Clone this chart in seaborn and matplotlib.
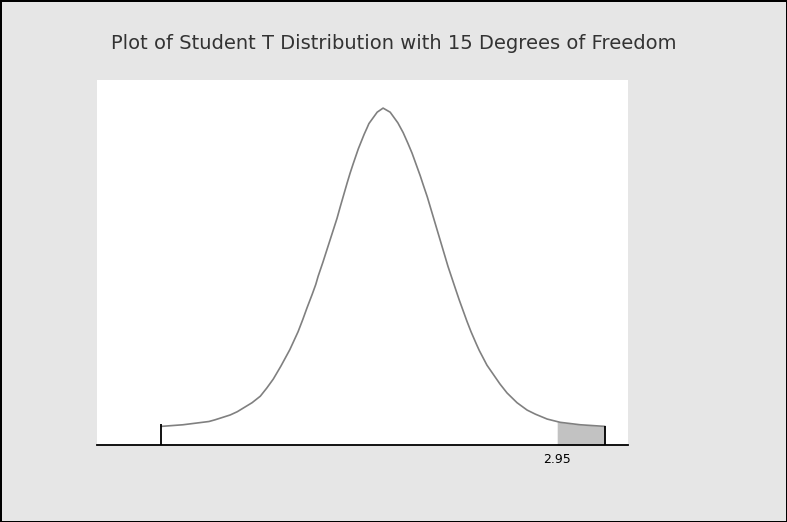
# Step 1: Import Required Libraries
import numpy as np
import pandas as pd
import seaborn as sns
import matplotlib
matplotlib.use("Agg")
import matplotlib.pyplot as plt

# Step 2: Values (t distribution, 15 degrees of freedom)
degrees_of_freedom = 15
t_values = [-3.76, -3.39, -2.95, -2.85, -2.59, -2.47, -2.22, -2.08, -1.97, -1.86,
            -1.73, -1.58, -1.51, -1.44, -1.36, -1.29, -1.20, -1.14, -1.10, -1.02,
            -0.78, -0.73, -0.61, -0.56, -0.51, -0.42, -0.32, -0.27, -0.24, -0.10,
            0.00, 0.12, 0.25, 0.34, 0.42, 0.49, 0.54, 0.63, 0.68, 0.75,
            1.03, 1.10, 1.22, 1.29, 1.42, 1.49, 1.58, 1.63, 1.76, 1.98,
            2.10, 2.27, 2.44, 2.58, 2.78, 3.00, 3.34, 3.76]
density = [0.002, 0.004, 0.008, 0.010, 0.016, 0.020, 0.031, 0.039, 0.049, 0.060,
           0.076, 0.096, 0.107, 0.118, 0.133, 0.147, 0.164, 0.176, 0.186, 0.203,
           0.257, 0.270, 0.300, 0.312, 0.323, 0.342, 0.360, 0.368, 0.373, 0.387,
           0.392, 0.387, 0.374, 0.362, 0.349, 0.337, 0.327, 0.309, 0.298, 0.283,
           0.215, 0.198, 0.172, 0.157, 0.131, 0.118, 0.103, 0.095, 0.077, 0.054,
           0.043, 0.031, 0.022, 0.017, 0.011, 0.007, 0.004, 0.002]
critical_value = 2.95
tick_labels = ["2.95"]

df = pd.DataFrame({"t": t_values, "pdf": density})

# Step 3: Figure and axes
sns.set_theme(style="white")
plt.rcParams['font.family'] = ['DejaVu Sans']
fig = plt.figure(figsize=(7.87, 5.22), dpi=100, facecolor="#e6e6e6",
                 edgecolor="black", linewidth=2)
ax = fig.add_axes([0.123, 0.1475, 0.675, 0.6995])
ax.set_facecolor("white")

# Step 4: Curve
sns.lineplot(data=df, x="t", y="pdf", ax=ax, color="#808080", linewidth=1.2)

ymin = -0.0208
ax.set_xlim(-4.85, 4.15)
ax.set_ylim(ymin, 0.4266)

# shaded upper tail beyond the critical value
tail = df[df["t"] >= critical_value]
x_tail = np.concatenate([[critical_value], tail["t"].values])
y_tail = np.concatenate([[np.interp(critical_value, df["t"], df["pdf"])], tail["pdf"].values])
ax.fill_between(x_tail, ymin, y_tail, color="#9a9a9a", alpha=0.6, linewidth=0)
ax.vlines([t_values[-1]], ymin, density[-1], color="black", linewidth=1.3)

# left end of the curve
ax.vlines([t_values[0]], ymin, density[0] + 0.003, color="black", linewidth=1.3)

# Step 5: Axes styling
for side in ["left", "right", "top"]:
    ax.spines[side].set_visible(False)
ax.spines["bottom"].set_color("black")
ax.spines["bottom"].set_linewidth(1.3)
ax.set_yticks([])
ax.set_xticks([critical_value])
ax.set_xticklabels(tick_labels, fontsize=9)
ax.tick_params(axis="x", direction="in", length=8, width=1.2, colors="black", pad=6)
ax.set_xlabel("")
ax.set_ylabel("")

fig.suptitle("Plot of Student T Distribution with 15 Degrees of Freedom",
             fontsize=14, x=0.5, y=0.935, color="#333333")

plt.savefig("out.png", dpi=100, facecolor=fig.get_facecolor(), edgecolor=fig.get_edgecolor())
